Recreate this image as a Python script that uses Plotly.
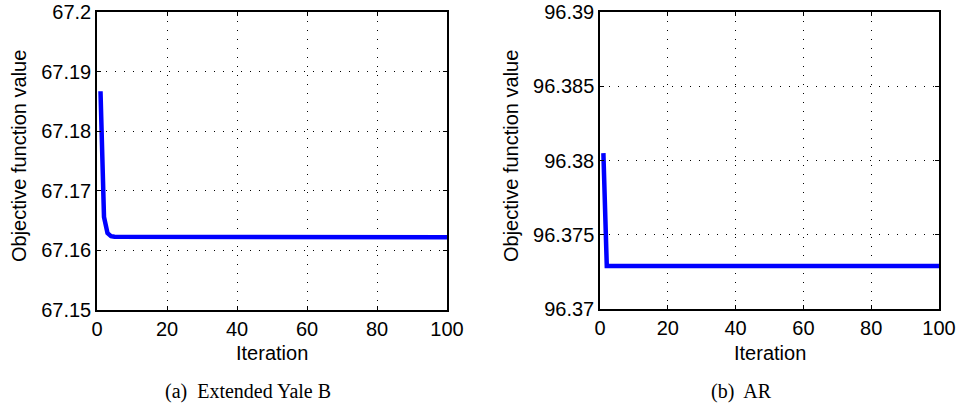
import plotly.graph_objects as go

iterations = list(range(1, 101))

yale_values = [
    67.1867, 67.1656, 67.1629, 67.1624, 67.1623, 67.1623, 67.1622, 67.1623, 67.1623, 67.1622,
    67.1623, 67.1623, 67.1622, 67.1623, 67.1623, 67.1623, 67.1622, 67.1622, 67.1623, 67.1623,
    67.1623, 67.1622, 67.1623, 67.1623, 67.1623, 67.1623, 67.1622, 67.1623, 67.1623, 67.1623,
    67.1622, 67.1622, 67.1623, 67.1623, 67.1623, 67.1623, 67.1623, 67.1622, 67.1623, 67.1623,
    67.1623, 67.1623, 67.1623, 67.1623, 67.1623, 67.1623, 67.1623, 67.1623, 67.1623, 67.1623,
    67.1623, 67.1623, 67.1623, 67.1623, 67.1623, 67.1623, 67.1623, 67.1623, 67.1623, 67.1623,
    67.1622, 67.1623, 67.1623, 67.1623, 67.1623, 67.1623, 67.1623, 67.1622, 67.1623, 67.1623,
    67.1623, 67.1623, 67.1623, 67.1623, 67.1623, 67.1623, 67.1623, 67.1623, 67.1623, 67.1622,
    67.1623, 67.1623, 67.1623, 67.1622, 67.1622, 67.1623, 67.1623, 67.1623, 67.1623, 67.1623,
    67.1622, 67.1623, 67.1623, 67.1623, 67.1623, 67.1623, 67.1622, 67.1622, 67.1623, 67.1622,
]

ar_values = [96.3805] + [96.3729] * 99

x_ticks = [0, 20, 40, 60, 80, 100]
yale_ticks = [67.15, 67.16, 67.17, 67.18, 67.19, 67.2]
yale_ticktext = ["67.15", "67.16", "67.17", "67.18", "67.19", "67.2"]
ar_ticks = [96.37, 96.375, 96.38, 96.385, 96.39]
ar_ticktext = ["96.37", "96.375", "96.38", "96.385", "96.39"]

captions = ["(a)  Extended Yale B", "(b)  AR"]
x_title = "Iteration"
y_title = "Objective function value"

W, H = 958, 408
sans = "Liberation Sans, Arial, sans-serif"
serif = "Liberation Serif, Times New Roman, serif"

fig = go.Figure()
fig.add_trace(go.Scatter(x=iterations, y=yale_values, mode="lines",
                         line=dict(color="#0000ff", width=4.5), xaxis="x", yaxis="y",
                         showlegend=False))
fig.add_trace(go.Scatter(x=iterations, y=ar_values, mode="lines",
                         line=dict(color="#0000ff", width=4.5), xaxis="x2", yaxis="y2",
                         showlegend=False))

common = dict(showline=True, linecolor="black", linewidth=1.5, mirror="ticks",
              ticks="inside", ticklen=4, tickcolor="black", tickwidth=1,
              showgrid=True, gridcolor="black", gridwidth=1, griddash="1px,8px",
              zeroline=False, automargin=False,
              tickfont=dict(family=sans, size=20, color="black"))

left_x = [97 / W, 447 / W]
right_x = [600 / W, 939 / W]
left_y = [(H - 310) / H, (H - 12) / H]
right_y = [(H - 309) / H, (H - 12) / H]

fig.update_layout(
    template="none",
    width=W, height=H, margin=dict(l=0, r=0, t=0, b=0),
    paper_bgcolor="white", plot_bgcolor="white",
    xaxis=dict(domain=left_x, range=[0, 100], tickvals=x_ticks, anchor="y", **common),
    yaxis=dict(domain=left_y, range=[67.15, 67.2], tickvals=yale_ticks,
               ticktext=yale_ticktext, anchor="x", **common),
    xaxis2=dict(domain=right_x, range=[0, 100], tickvals=x_ticks, anchor="y2", **common),
    yaxis2=dict(domain=right_y, range=[96.37, 96.39], tickvals=ar_ticks,
                ticktext=ar_ticktext, anchor="x2", **common),
)

ann = []
for dom_x, ytx, cap, capx in [(left_x, 19, captions[0], 248), (right_x, 511, captions[1], 741)]:
    cx = (dom_x[0] + dom_x[1]) / 2
    ann.append(dict(x=cx, y=1 - 353 / H, xref="paper", yref="paper", text=x_title,
                    showarrow=False, font=dict(family=sans, size=20, color="black"),
                    xanchor="center", yanchor="middle"))
    ann.append(dict(x=ytx / W, y=1 - 156 / H, xref="paper", yref="paper", text=y_title,
                    textangle=-90, showarrow=False,
                    font=dict(family=sans, size=20, color="black"),
                    xanchor="center", yanchor="middle"))
    ann.append(dict(x=capx / W, y=1 - 391 / H, xref="paper", yref="paper", text=cap,
                    showarrow=False, font=dict(family=serif, size=20, color="black"),
                    xanchor="center", yanchor="middle"))
fig.update_layout(annotations=ann)

fig.write_html("out.html",
               config={"displayModeBar": False},
               post_script="document.body.style.margin='0px';document.body.style.overflow='hidden';")
